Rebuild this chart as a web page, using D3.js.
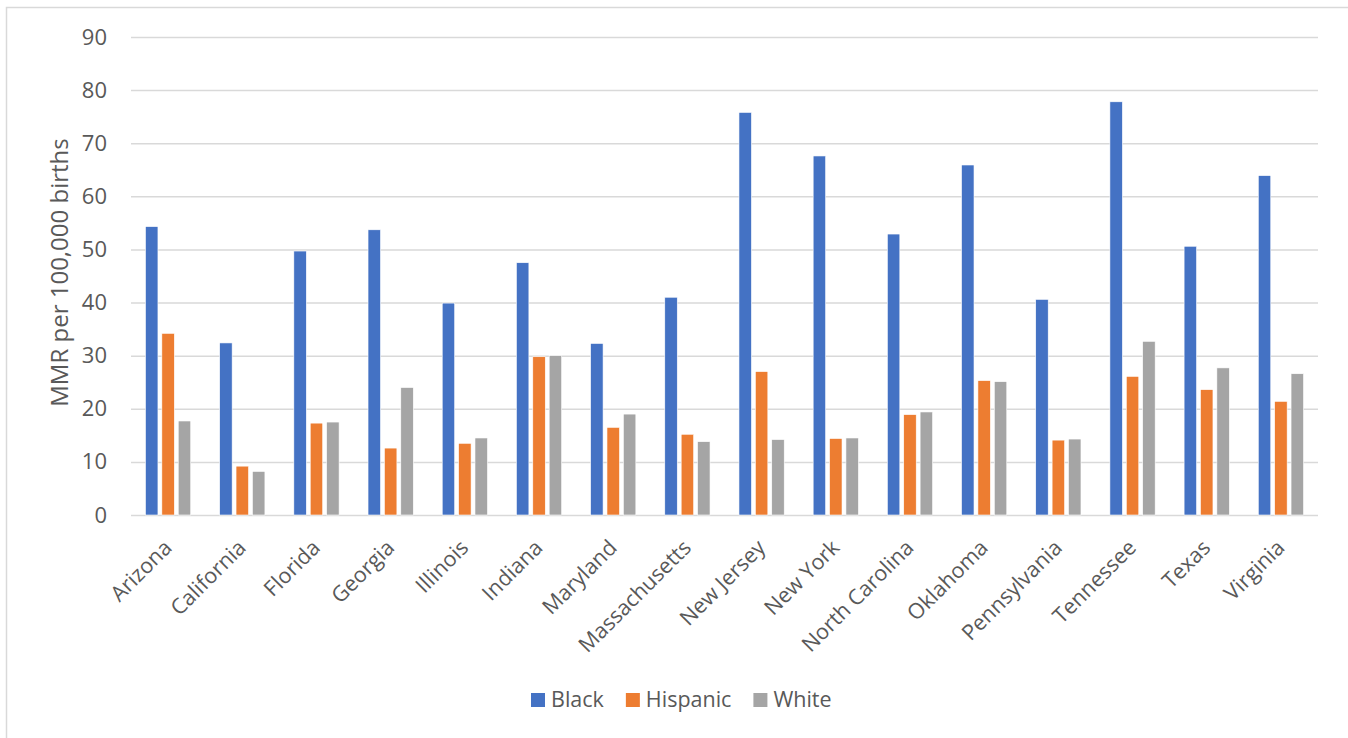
<!DOCTYPE html>
<html>
<head>
<meta charset="utf-8">
<script src="https://cdn.jsdelivr.net/npm/d3@7"></script>
<style>
  html, body { margin: 0; padding: 0; background: #fff; }
  svg { display: block; }
  text { font-family: "Open Sans", sans-serif; fill: #595959; }
</style>
</head>
<body>
<svg id="chart" width="1348" height="738"></svg>
<script>
const states = ["Arizona","California","Florida","Georgia","Illinois","Indiana","Maryland","Massachusetts","New Jersey","New York","North Carolina","Oklahoma","Pennsylvania","Tennessee","Texas","Virginia"];
const seriesNames = ["Black","Hispanic","White"];
const black    = [54.3, 32.4, 49.7, 53.7, 39.9, 47.5, 32.3, 41.0, 75.8, 67.6, 52.9, 65.9, 40.6, 77.8, 50.6, 63.9];
const hispanic = [34.2,  9.2, 17.3, 12.6, 13.5, 29.8, 16.5, 15.2, 27.0, 14.4, 18.9, 25.3, 14.1, 26.1, 23.6, 21.4];
const white    = [17.7,  8.2, 17.5, 24.0, 14.5, 30.0, 19.0, 13.8, 14.2, 14.5, 19.4, 25.1, 14.3, 32.7, 27.7, 26.6];
const yTicks = [0,10,20,30,40,50,60,70,80,90];
const colors = ["#4472C4","#ED7D31","#A5A5A5"];

const seriesValues = [black, hispanic, white];
const data = states.map((s, i) => ({state: s, values: seriesNames.map((n, j) => ({name: n, value: seriesValues[j][i]}))}));

const svg = d3.select("#chart");
const pLeft = 131, pRight = 1318, pTop = 37, pBottom = 515;

// outer border (chart area)
svg.append("path").attr("d", "M6.5,740 V7.5 H1350").attr("fill","none").attr("stroke","#D9D9D9").attr("stroke-width",1.5);

const x0 = d3.scaleBand().domain(states).range([pLeft, pRight]).paddingInner(0.39).paddingOuter(0.195);
const x1 = d3.scaleBand().domain(seriesNames).range([0, x0.bandwidth()]).paddingInner(0.238);
const y = d3.scaleLinear().domain([0, 90]).range([pBottom, pTop]);

// gridlines
const grid = svg.append("g").attr("transform", `translate(${pLeft},0)`)
  .call(d3.axisLeft(y).tickValues(yTicks).tickSize(-(pRight-pLeft)).tickFormat(""));
grid.select(".domain").remove();
grid.selectAll("line").attr("stroke","#D9D9D9").attr("stroke-width",1.5);

// y tick labels
const yAxis = svg.append("g").attr("transform", `translate(${pLeft},0)`)
  .call(d3.axisLeft(y).tickValues(yTicks).tickSize(0).tickPadding(24));
yAxis.select(".domain").remove();
yAxis.selectAll("text").attr("font-size", 22).attr("fill","#595959").style("font-family","'Open Sans', sans-serif");

// bars
const groups = svg.append("g").selectAll("g").data(data).join("g")
  .attr("transform", d => `translate(${x0(d.state)},0)`);
groups.selectAll("rect").data(d => d.values).join("rect")
  .attr("x", d => x1(d.name))
  .attr("width", x1.bandwidth())
  .attr("y", d => y(d.value))
  .attr("height", d => y(0) - y(d.value))
  .attr("fill", (d, i) => colors[i])
  .attr("stroke", "#fff").attr("stroke-width", 0.6);

// x axis labels
const xAxis = svg.append("g").attr("transform", `translate(0,${pBottom})`)
  .call(d3.axisBottom(x0).tickSize(0).tickPadding(0));
xAxis.select(".domain").remove();
xAxis.selectAll("text")
  .attr("font-size", 21.5)
  .attr("fill","#595959")
  .style("font-family","'Open Sans', sans-serif")
  .attr("text-anchor","end")
  .attr("dy", null).attr("y", 0)
  .attr("transform", "translate(5,34) rotate(-45)");

// y axis title
svg.append("text")
  .attr("transform", `translate(68,272.5) rotate(-90)`)
  .attr("text-anchor","middle")
  .attr("font-size", 24)
  .text("MMR per 100,000 births");

// legend
const legend = svg.append("g");
let lx = 531;
seriesNames.forEach((n, i) => {
  legend.append("rect").attr("x", lx).attr("y", 693).attr("width", 14).attr("height", 14).attr("fill", colors[i]);
  const t = legend.append("text").attr("x", lx + 20).attr("y", 707).attr("font-size", 21.5).text(n);
  lx += 20 + t.node().getComputedTextLength() + 22;
});
</script>
</body>
</html>
